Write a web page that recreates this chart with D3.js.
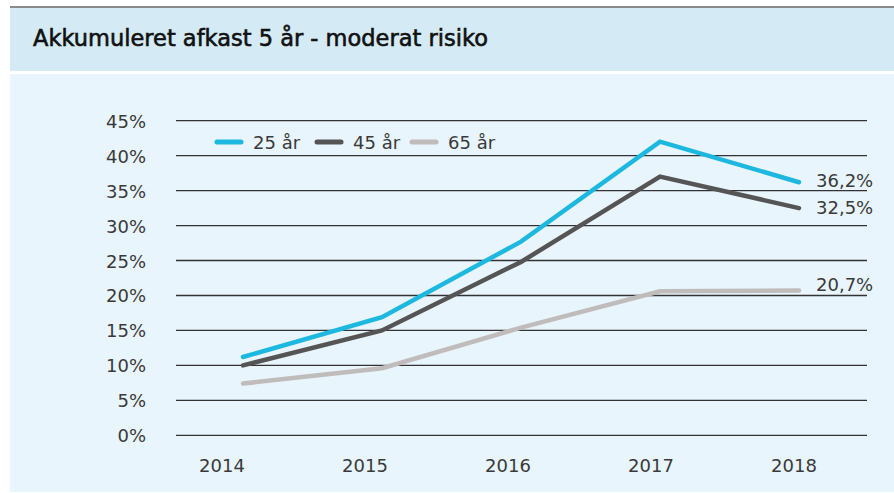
<!DOCTYPE html>
<html>
<head>
<meta charset="utf-8">
<script src="https://cdn.jsdelivr.net/npm/d3@7"></script>
<style>
  body { margin: 0; background: #fff; }
  text { font-family: "DejaVu Sans", sans-serif; }
</style>
</head>
<body>
<script>
const years = [2014, 2015, 2016, 2017, 2018];
const yTicks = [0, 5, 10, 15, 20, 25, 30, 35, 40, 45];
const seriesNames = ['25 år', '45 år', '65 år'];
const s25 = [11.2, 16.9, 27.7, 42.0, 36.2];
const s45 = [10.0, 15.0, 24.8, 37.0, 32.5];
const s65 = [7.4, 9.6, 15.4, 20.6, 20.7];
const endLabels = ['36,2%', '32,5%', '20,7%'];

const W = 894, H = 493;
const colors = ['#1cb8e0', '#555555', '#c0bcbc'];

const svg = d3.select('body').append('svg')
  .attr('width', W)
  .attr('height', H);

// backgrounds
svg.append('rect').attr('x', 10).attr('y', 6).attr('width', W - 10).attr('height', 2).attr('fill', '#8a8a8a');
svg.append('rect').attr('x', 10).attr('y', 8).attr('width', W - 10).attr('height', 63).attr('fill', '#d4eaf5');
svg.append('rect').attr('x', 10).attr('y', 74).attr('width', W - 10).attr('height', H - 75).attr('fill', '#e8f5fc');

svg.append('text')
  .attr('x', 33).attr('y', 46)
  .attr('font-size', 22.5)
  .attr('fill', '#111').attr('stroke', '#111').attr('stroke-width', 0.6)
  .text('Akkumuleret afkast 5 år - moderat risiko');

const y = d3.scaleLinear().domain([0, 45]).range([435.3, 120.7]);
const x = d3.scalePoint().domain(years).range([243, 799]);
const xLab = d3.scalePoint().domain(years).range([222, 794]);

// gridlines
svg.append('g').selectAll('line')
  .data(yTicks)
  .join('line')
  .attr('x1', 176).attr('x2', 867)
  .attr('y1', d => y(d)).attr('y2', d => y(d))
  .attr('stroke', '#333').attr('stroke-width', 1.3);

svg.append('g').selectAll('text')
  .data(yTicks)
  .join('text')
  .attr('x', 146).attr('y', d => y(d) + 7)
  .attr('text-anchor', 'end')
  .attr('font-size', 18).attr('fill', '#3a3a3a')
  .text(d => d + '%');

svg.append('g').selectAll('text')
  .data(years)
  .join('text')
  .attr('x', d => xLab(d)).attr('y', 472)
  .attr('text-anchor', 'middle')
  .attr('font-size', 18).attr('fill', '#3a3a3a')
  .text(d => d);

const series = [s25, s45, s65];
const line = d3.line()
  .x((d, i) => x(years[i]))
  .y(d => y(d));

// draw grey first so the darker lines sit above it
[2, 1, 0].forEach((k) => {
  svg.append('path')
    .attr('d', line(series[k]))
    .attr('fill', 'none')
    .attr('stroke', colors[k])
    .attr('stroke-width', 4.5)
    .attr('stroke-linecap', 'round')
    .attr('stroke-linejoin', 'miter');
});

// end labels
const endY = [187, 214, 291];
series.forEach((s, k) => {
  svg.append('text')
    .attr('x', 816).attr('y', endY[k])
    .attr('font-size', 18).attr('fill', '#3a3a3a')
    .text(endLabels[k]);
});

// legend
const legX = [217, 317, 412];
seriesNames.forEach((n, k) => {
  svg.append('line')
    .attr('x1', legX[k]).attr('x2', legX[k] + 24)
    .attr('y1', 142).attr('y2', 142)
    .attr('stroke', colors[k]).attr('stroke-width', 5)
    .attr('stroke-linecap', 'round');
  svg.append('text')
    .attr('x', legX[k] + 36).attr('y', 148.5)
    .attr('font-size', 18).attr('fill', '#3a3a3a')
    .text(n);
});
</script>
</body>
</html>
